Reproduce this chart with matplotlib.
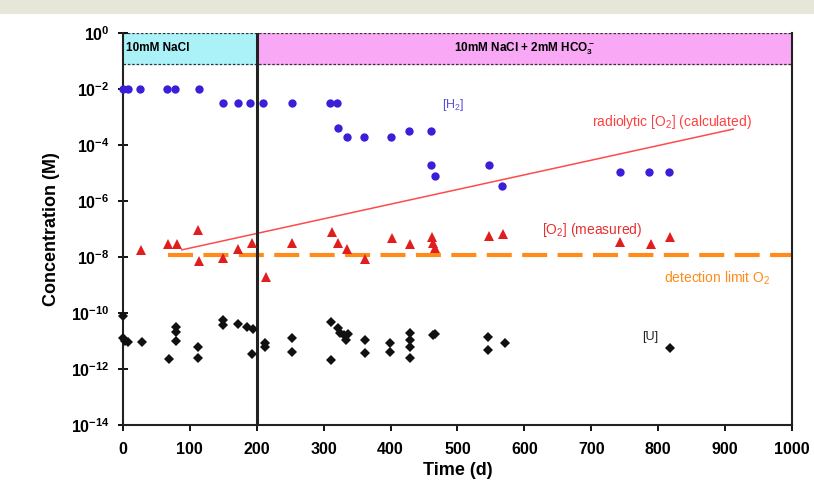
import matplotlib
matplotlib.use("Agg")
import matplotlib.pyplot as plt
from matplotlib.patches import Rectangle

plt.rcParams['font.family'] = ['Liberation Sans', 'DejaVu Sans']
plt.rcParams['mathtext.default'] = 'regular'

# [H2] (M) vs time (d)
h2_days = [0, 8, 25, 66, 78, 114, 149, 172, 190, 209, 253, 309, 320,
           321, 335, 360, 400, 428, 460, 460, 466, 547, 566, 743, 786, 816]
h2_conc = [1e-2, 1e-2, 1e-2, 1e-2, 1e-2, 1e-2, 3.2e-3, 3.2e-3, 3.2e-3, 3.2e-3,
           3.2e-3, 3.2e-3, 3.2e-3, 4.1e-4, 1.9e-4, 1.9e-4, 1.9e-4, 3.2e-4,
           3.2e-4, 1.9e-5, 7.9e-6, 1.9e-5, 3.5e-6, 1.1e-5, 1.1e-5, 1.1e-5]

# [O2] measured
o2_days = [27, 67, 81, 112, 114, 150, 172, 193, 214, 253, 312, 322, 335,
           362, 402, 429, 462, 463, 466, 547, 568, 743, 789, 818]
o2_conc = [1.8e-8, 2.9e-8, 2.9e-8, 9.1e-8, 7.2e-9, 9.1e-9, 1.9e-8, 3.2e-8,
           1.9e-9, 3.2e-8, 7.9e-8, 3.2e-8, 1.9e-8, 8.5e-9, 4.8e-8, 2.9e-8,
           5.1e-8, 3.2e-8, 2.1e-8, 5.6e-8, 6.6e-8, 3.5e-8, 2.9e-8, 5.1e-8]

# [U]
u_days = [0, 0, 3, 8, 28, 69, 79, 80, 80, 112, 112, 150, 150, 172, 185, 194,
          193, 212, 212, 253, 253, 311, 311, 321, 325, 330, 336, 333, 362, 362,
          399, 399, 429, 429, 429, 429, 463, 466, 546, 546, 571, 818]
u_conc = [7.9e-11, 1.26e-11, 1.0e-11, 8.9e-12, 9.1e-12, 2.3e-12, 3.2e-11,
          2.1e-11, 1.0e-11, 6.3e-12, 2.5e-12, 5.6e-11, 3.7e-11, 4.1e-11,
          3.2e-11, 2.7e-11, 3.5e-12, 8.5e-12, 6.2e-12, 1.26e-11, 4.1e-12,
          4.8e-11, 2.1e-12, 2.9e-11, 2.0e-11, 1.6e-11, 1.8e-11, 1.1e-11,
          1.1e-11, 3.7e-12, 8.5e-12, 4.1e-12, 1.95e-11, 1.1e-11, 6.2e-12,
          2.5e-12, 1.6e-11, 1.8e-11, 1.4e-11, 4.8e-12, 8.5e-12, 5.6e-12]

# radiolytic [O2] (calculated), end points
rad_days = [88, 912]
rad_conc = [1.8e-8, 3.7e-4]

det_limit = 1.2e-8
det_days = [67, 1000]

fig = plt.figure(figsize=(8.14, 4.98), dpi=100)
fig.patches.append(Rectangle((0, 0.972), 1, 0.028, transform=fig.transFigure,
                             facecolor='#e6e6d9', edgecolor='none'))
ax = fig.add_axes([0.151, 0.1466, 0.822, 0.787])
ax.set_yscale('log')
ax.set_xlim(0, 1000)
ax.set_ylim(1e-14, 1)

# solution bands on top
band_lo = 10 ** -1.1
ax.fill_between([0, 200], band_lo, 1, color='#aaf2f8', zorder=0)
ax.fill_between([200, 1000], band_lo, 1, color='#f8a8f4', zorder=0)
ax.hlines([band_lo, 1], 0, 1000, colors='#333333', linestyles=(0, (2, 1.5)),
          linewidth=0.9, zorder=1)
ax.text(4, 10 ** -0.55, '10mM NaCl', fontsize=8.5, fontweight='bold',
        va='center', ha='left')
ax.text(600, 10 ** -0.55, '10mM NaCl + 2mM HCO$_3^-$', fontsize=8.5,
        fontweight='bold', va='center', ha='center')
ax.axvline(200, color='#222222', linewidth=2.2, zorder=5)

ax.plot(det_days, [det_limit, det_limit], color='#ff8c1a', linewidth=3,
        dashes=(6, 2.5), zorder=2)
ax.plot(rad_days, rad_conc, color='#ff4a4a', linewidth=1.1, zorder=3)

ax.plot(h2_days, h2_conc, 'o', color='#3a1fd8', markersize=6,
        markeredgewidth=0, zorder=6, clip_on=False)
ax.plot(o2_days, o2_conc, '^', color='#e01e1e', markersize=7.5,
        markeredgewidth=0, zorder=6, clip_on=False)
ax.plot(u_days, u_conc, 'D', color='#111111', markersize=5.5,
        markeredgewidth=0, zorder=6, clip_on=False)

ax.text(493, 2.7e-3, '[H$_2$]', color='#5a50e0', fontsize=9, ha='center',
        va='center')
ax.text(820, 6.6e-4, 'radiolytic [O$_2$] (calculated)', color='#ff4040',
        fontsize=10, ha='center', va='center')
ax.text(701, 9.1e-8, '[O$_2$] (measured)', color='#e83030', fontsize=10,
        ha='center', va='center')
ax.text(888, 1.8e-9, 'detection limit O$_2$', color='#ff8c1a', fontsize=10,
        ha='center', va='center')
ax.text(788, 1.4e-11, '[U]', color='#222222', fontsize=9, ha='center',
        va='center')

ax.set_xticks(range(0, 1001, 100))
ax.set_yticks([10.0 ** -k for k in range(0, 15, 2)])
ax.minorticks_off()
ax.tick_params(axis='x', direction='out', length=4, width=1.3, labelsize=11.5,
               pad=8)
ax.tick_params(axis='y', direction='inout', length=7, width=1.3, labelsize=11.5,
               pad=6)
for lbl in ax.get_xticklabels() + ax.get_yticklabels():
    lbl.set_fontweight('bold')
for s in ['left', 'bottom', 'right']:
    ax.spines[s].set_linewidth(1.5)
    ax.spines[s].set_color('#222222')
ax.spines['top'].set_visible(False)

ax.set_xlabel('Time (d)', fontsize=13, fontweight='bold', labelpad=4)
ax.set_ylabel('Concentration (M)', fontsize=13, fontweight='bold', labelpad=8)

fig.savefig('out.png', dpi=100)
